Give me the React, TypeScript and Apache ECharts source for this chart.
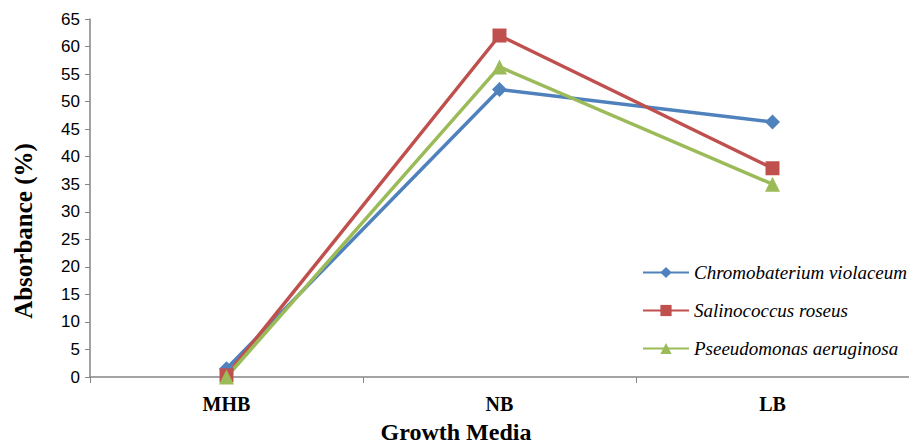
import React, { useEffect, useRef } from "react";
import * as echarts from "echarts";

const media = ["MHB", "NB", "LB"];
const chromobacterium = [1.5, 52.2, 46.3];
const salinococcus = [0.3, 62.0, 37.9];
const pseudomonas = [0.0, 56.3, 35.0];
const seriesNames = [
  "Chromobaterium violaceum",
  "Salinococcus roseus",
  "Pseeudomonas aeruginosa",
];
const xTitle = "Growth Media";
const yTitle = "Absorbance (%)";

const serif = "Liberation Serif";
const sans = "Liberation Sans";

export default function App() {
  const ref = useRef<HTMLDivElement>(null);

  useEffect(() => {
    if (!ref.current) return;
    const chart = echarts.init(ref.current, null, { renderer: "svg" });
    const mk = (name: string, data: number[], color: string, symbol: string, size: number) => ({
      name,
      type: "line",
      data,
      symbol,
      symbolSize: size,
      itemStyle: { color },
      lineStyle: { color, width: 3.5 },
      z: 2,
    });
    chart.setOption({
      animation: false,
      backgroundColor: "#ffffff",
      grid: { left: 90, right: 0, top: 19, bottom: 70, outerBoundsMode: "none", containLabel: false },
      legend: {
        orient: "vertical",
        left: 642,
        top: 263,
        padding: 0,
        itemWidth: 46,
        itemHeight: 14,
        itemGap: 19,
        textStyle: { fontFamily: serif, fontStyle: "italic", fontSize: 19, color: "#000" },
        data: seriesNames,
      },
      graphic: [
        {
          type: "text",
          x: 456,
          y: 432,
          style: {
            text: xTitle,
            fontFamily: serif,
            fontWeight: "bold",
            fontSize: 24,
            fill: "#000",
            align: "center",
            verticalAlign: "middle",
          },
        },
        {
          type: "text",
          x: 23,
          y: 231,
          rotation: Math.PI / 2,
          style: {
            text: yTitle,
            fontFamily: serif,
            fontWeight: "bold",
            fontSize: 25,
            fill: "#000",
            align: "center",
            verticalAlign: "middle",
          },
        },
      ],
      xAxis: {
        type: "category",
        data: media,
        boundaryGap: true,
        axisLine: { lineStyle: { color: "#868686", width: 1.5 } },
        axisTick: { show: true, length: 6, lineStyle: { color: "#868686" } },
        axisLabel: {
          fontFamily: serif,
          fontWeight: "bold",
          fontSize: 20,
          color: "#000",
          margin: 17,
        },
      },
      yAxis: {
        type: "value",
        min: 0,
        max: 65,
        interval: 5,
        splitLine: { show: false },
        axisLine: { show: true, lineStyle: { color: "#868686", width: 1.5 } },
        axisTick: { show: true, length: 5, lineStyle: { color: "#868686" } },
        axisLabel: { fontFamily: sans, fontSize: 17, color: "#000", margin: 10 },
      },
      series: [
        mk(seriesNames[0], chromobacterium, "#4F81BD", "diamond", 15),
        mk(seriesNames[1], salinococcus, "#C0504D", "rect", 14),
        mk(seriesNames[2], pseudomonas, "#9BBB59", "triangle", 15),
      ],
    });
    return () => chart.dispose();
  }, []);

  return <div ref={ref} style={{ position: "fixed", left: 0, top: 0, width: 909, height: 447 }} />;
}
